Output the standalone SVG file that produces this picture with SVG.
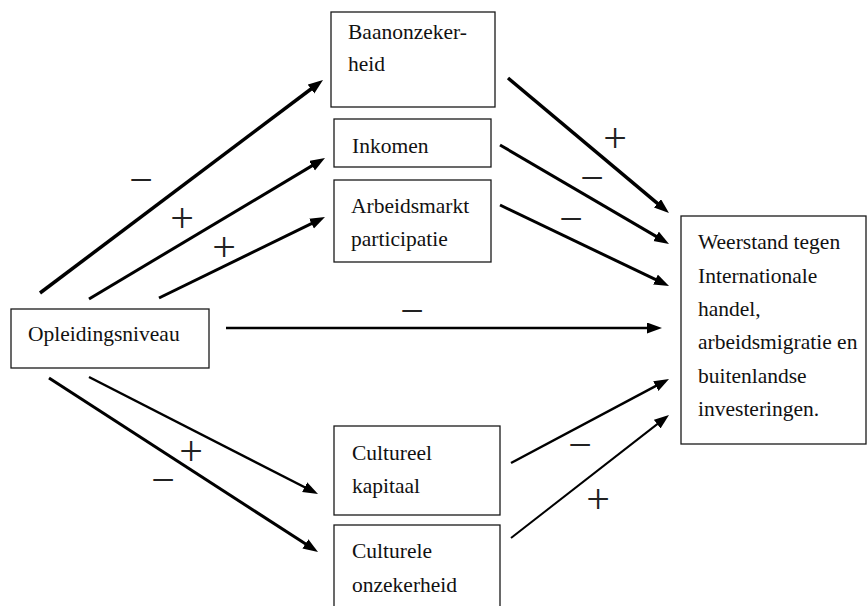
<svg xmlns="http://www.w3.org/2000/svg" width="868" height="606" viewBox="0 0 868 606">
<style>
  .box { fill: #fff; stroke: #1a1a1a; stroke-width: 1.3; }
  .t { font-family: "Liberation Serif", "Times New Roman", serif; font-size: 21.5px; fill: #111; }
  .s { font-family: "Liberation Serif", "Times New Roman", serif; font-size: 42px; fill: #222; text-anchor: middle; }
  .c line { stroke: #000; fill: none; marker-end: url(#ah); }
</style>
<defs>
  <marker id="ah" markerUnits="userSpaceOnUse" markerWidth="16" markerHeight="12" refX="5" refY="5.5" orient="auto" viewBox="0 0 16 12">
    <path d="M0,0 L15,5.5 L0,11 z" fill="#000"/>
  </marker>
</defs>
<rect width="868" height="606" fill="#fff"/>

<g id="baanonzekerheid">
  <rect class="box" x="331" y="12" width="164" height="95"/>
  <text class="t" x="348" y="39">Baanonzeker-</text>
  <text class="t" x="348" y="71">heid</text>
</g>
<g id="inkomen">
  <rect class="box" x="334" y="119" width="157" height="48"/>
  <text class="t" x="352" y="153">Inkomen</text>
</g>
<g id="arbeidsmarkt">
  <rect class="box" x="334" y="180" width="157" height="82"/>
  <text class="t" x="351" y="213">Arbeidsmarkt</text>
  <text class="t" x="351" y="246">participatie</text>
</g>
<g id="opleidingsniveau">
  <rect class="box" x="11" y="309" width="198" height="59"/>
  <text class="t" x="28" y="341">Opleidingsniveau</text>
</g>
<g id="weerstand">
  <rect class="box" x="681" y="216" width="185" height="228"/>
  <text class="t" x="698" y="249">Weerstand tegen</text>
  <text class="t" x="698" y="283">Internationale</text>
  <text class="t" x="698" y="316">handel,</text>
  <text class="t" x="698" y="349">arbeidsmigratie en</text>
  <text class="t" x="698" y="383">buitenlandse</text>
  <text class="t" x="698" y="416">investeringen.</text>
</g>
<g id="cultureel-kapitaal">
  <rect class="box" x="334" y="426" width="166" height="89"/>
  <text class="t" x="352" y="460">Cultureel</text>
  <text class="t" x="352" y="493">kapitaal</text>
</g>
<g id="culturele-onzekerheid">
  <rect class="box" x="334" y="525" width="166" height="90"/>
  <text class="t" x="352" y="558">Culturele</text>
  <text class="t" x="352" y="592">onzekerheid</text>
</g>

<g id="connectors" class="c">
  <line x1="40" y1="293" x2="315.0" y2="86.0" stroke-width="3.5"/>
  <line x1="89" y1="299" x2="316.4" y2="163.1" stroke-width="3"/>
  <line x1="159" y1="298" x2="316.0" y2="221.4" stroke-width="3"/>
  <line x1="226" y1="328" x2="652" y2="328" stroke-width="2.5"/>
  <line x1="89" y1="377" x2="309.1" y2="489.5" stroke-width="2.5"/>
  <line x1="49" y1="378" x2="309.6" y2="546.6" stroke-width="3"/>
  <line x1="508" y1="78" x2="661.3" y2="206.6" stroke-width="3.5"/>
  <line x1="500" y1="145" x2="660.4" y2="238.9" stroke-width="3"/>
  <line x1="500" y1="205" x2="660.0" y2="281.7" stroke-width="3"/>
  <line x1="511" y1="463" x2="660.2" y2="383.7" stroke-width="2.5"/>
  <line x1="511" y1="538" x2="661.1" y2="421.1" stroke-width="2"/>
</g>

<g id="signs">
  <text class="s" x="141" y="194">−</text>
  <text class="s" x="182" y="232">+</text>
  <text class="s" x="224" y="261">+</text>
  <text class="s" x="615" y="152">+</text>
  <text class="s" x="592" y="192">−</text>
  <text class="s" x="571" y="233">−</text>
  <text class="s" x="412" y="325">−</text>
  <text class="s" x="191" y="465">+</text>
  <text class="s" x="163" y="494">−</text>
  <text class="s" x="580" y="459">−</text>
  <text class="s" x="598" y="513">+</text>
</g>
</svg>
